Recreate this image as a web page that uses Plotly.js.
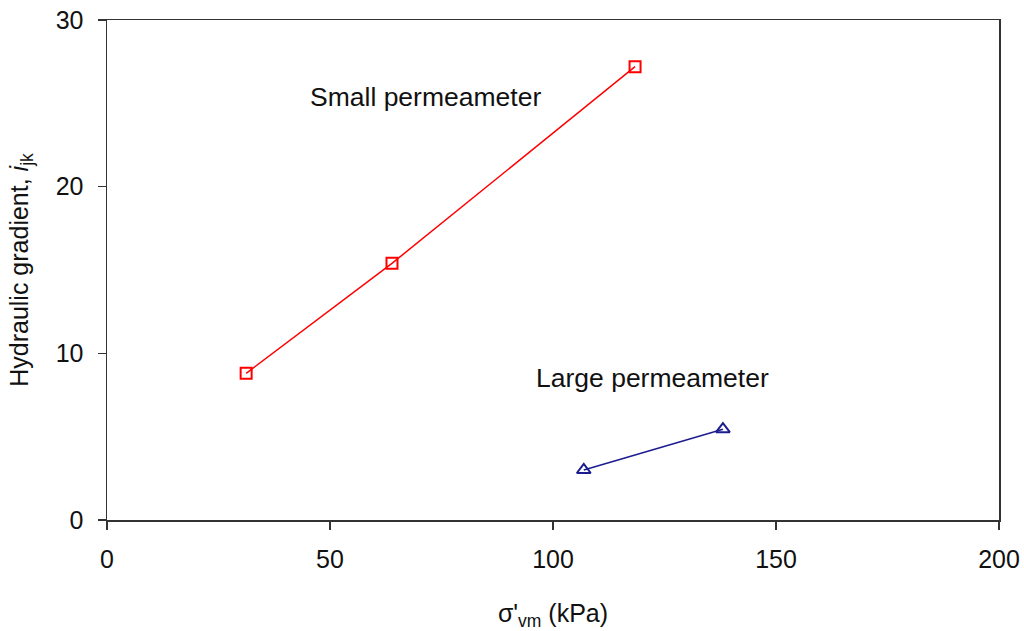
<!DOCTYPE html>
<html>
<head>
<meta charset="utf-8">
<script src="https://cdn.plot.ly/plotly-3.0.1.min.js"></script>
<style>html,body{margin:0;padding:0;background:#fff;}#chart{width:1024px;height:631px;}</style>
</head>
<body>
<div id="chart"></div>
<script>
const smallX = [31.2, 63.9, 118.4];
const smallY = [8.8, 15.4, 27.2];
const largeX = [106.9, 138.1];
const largeY = [3.0, 5.45];
const xTicks = [0, 50, 100, 150, 200];
const yTicks = [0, 10, 20, 30];

const font = 'Liberation Sans, Arial, sans-serif';
const fs = 25;

const traces = [
  {
    x: smallX, y: smallY, mode: 'lines+markers', name: 'Small permeameter',
    line: {color: '#ff0000', width: 1.5},
    marker: {symbol: 'square-open', size: 11, color: '#ff0000', line: {width: 2, color: '#ff0000'}}
  },
  {
    x: largeX, y: largeY, mode: 'lines+markers', name: 'Large permeameter',
    line: {color: '#1c1c8f', width: 1.5},
    marker: {symbol: 'triangle-up-open', size: 12, color: '#1c1c8f', line: {width: 2, color: '#1c1c8f'}}
  }
];

const layout = {
  width: 1024, height: 631,
  margin: {l: 107, r: 25, t: 20, b: 111},
  paper_bgcolor: '#fff', plot_bgcolor: '#fff',
  showlegend: false,
  font: {family: font, size: fs, color: '#000'},
  xaxis: {
    range: [0, 200], tickvals: xTicks, ticktext: xTicks.map(String),
    showgrid: false, zeroline: false,
    showline: true, linecolor: '#333', linewidth: 1.5, mirror: true,
    ticks: 'outside', ticklen: 8, tickcolor: '#333', tickwidth: 1.5,
    ticklabelstandoff: 8,
    tickfont: {family: font, size: fs, color: '#111'},
    title: {text: "σ'<sub>vm</sub> (kPa)", font: {family: font, size: fs, color: '#111'}, standoff: 38}
  },
  yaxis: {
    range: [0, 30], tickvals: yTicks, ticktext: yTicks.map(String),
    showgrid: false, zeroline: false,
    showline: true, linecolor: '#333', linewidth: 1.5, mirror: true,
    ticks: 'outside', ticklen: 8, tickcolor: '#333', tickwidth: 1.5,
    ticklabelstandoff: 9,
    tickfont: {family: font, size: fs, color: '#111'},
    title: {text: 'Hydraulic gradient, <i>i</i><sub>jk</sub>', font: {family: font, size: fs, color: '#111'}, standoff: 20}
  },
  annotations: [
    {x: 71.3, y: 25.4, xref: 'x', yref: 'y', text: 'Small permeameter', showarrow: false,
     font: {family: font, size: 26.5, color: '#111'}},
    {x: 122.4, y: 8.5, xref: 'x', yref: 'y', text: 'Large permeameter', showarrow: false,
     font: {family: font, size: 26.5, color: '#111'}}
  ]
};

Plotly.newPlot('chart', traces, layout, {displayModeBar: false, staticPlot: true});
</script>
</body>
</html>
